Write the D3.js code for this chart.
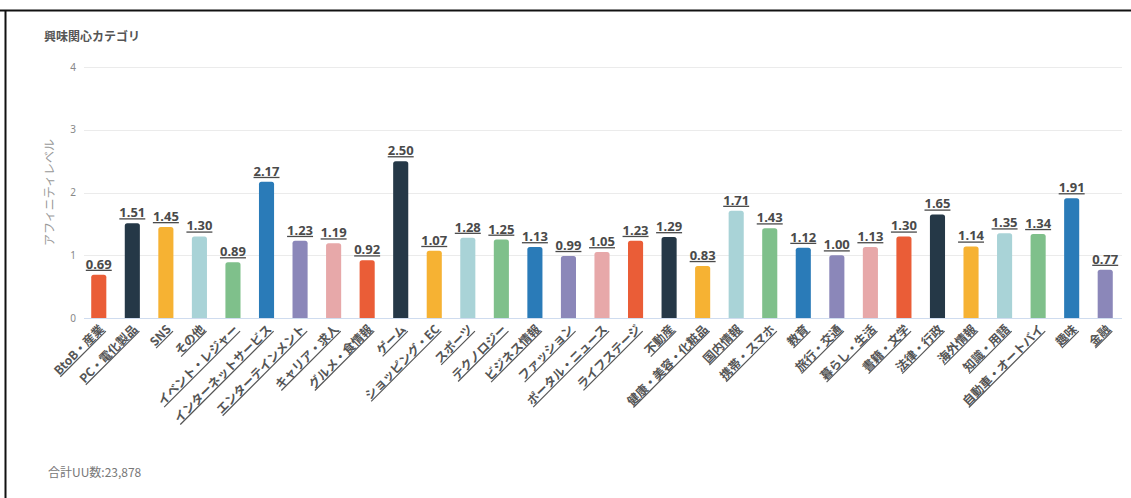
<!DOCTYPE html>
<html>
<head>
<meta charset="utf-8">
<script src="https://cdn.jsdelivr.net/npm/d3@7"></script>
<style>
body { margin:0; background:#fff; font-family:"Noto Sans CJK JP","Noto Sans",sans-serif; }
</style>
</head>
<body>
<script>
var width=1131, height=498;

var categories = ["BtoB・産業","PC・電化製品","SNS","その他","イベント・レジャー","インターネットサービス","エンターテインメント","キャリア・求人","グルメ・食情報","ゲーム","ショッピング・EC","スポーツ","テクノロジー","ビジネス情報","ファッション","ポータル・ニュース","ライフステージ","不動産","健康・美容・化粧品","国内情報","携帯・スマホ","教育","旅行・交通","暮らし・生活","書籍・文学","法律・行政","海外情報","知識・用語","自動車・オートバイ","趣味","金融"];
var values = [0.69,1.51,1.45,1.30,0.89,2.17,1.23,1.19,0.92,2.50,1.07,1.28,1.25,1.13,0.99,1.05,1.23,1.29,0.83,1.71,1.43,1.12,1.00,1.13,1.30,1.65,1.14,1.35,1.34,1.91,0.77];
var yTicks = [0,1,2,3,4];
var palette = ["#ea5d37","#253847","#f6b233","#a9d3d7","#7fc08b","#2a7bb8","#8b87b9","#e7a8a9"];

var data = categories.map(function(c, i) { return {name:c, value:values[i]}; });

var svg = d3.select("body").append("svg")
    .attr("width", width)
    .attr("height", height);

// frame lines (top and left)
svg.append("line").attr("x1",0).attr("x2",width).attr("y1",10.5).attr("y2",10.5)
    .attr("stroke","#111").attr("stroke-width",2);
svg.append("line").attr("x1",5.5).attr("x2",5.5).attr("y1",10).attr("y2",height)
    .attr("stroke","#111").attr("stroke-width",2);

var xScale = d3.scaleBand().domain(categories).range([82, 1122]).paddingInner(0.55).paddingOuter(0.275),
    yScale = d3.scaleLinear().domain([0, 4]).range([318, 67]);

// title
svg.append("text").attr("x",44).attr("y",41)
    .attr("font-size",12).attr("font-weight","bold").attr("fill","#555")
    .text("興味関心カテゴリ");

// grid
svg.append("g").selectAll("line").data(yTicks.slice(1)).enter().append("line")
    .attr("x1",84).attr("x2",1122)
    .attr("y1",function(d){ return Math.round(yScale(d))+0.5; })
    .attr("y2",function(d){ return Math.round(yScale(d))+0.5; })
    .attr("stroke","#ebebeb");

var yAxis = svg.append("g")
    .attr("transform","translate(84,0)")
    .call(d3.axisLeft(yScale).tickValues(yTicks).tickSize(0).tickPadding(8).tickFormat(d3.format("d")));
yAxis.select(".domain").remove();
yAxis.selectAll("text").attr("font-size",10).attr("fill","#888").attr("font-family","Noto Sans");

svg.append("text")
    .attr("transform","translate(54," + yScale(2) + ") rotate(-90)")
    .attr("text-anchor","middle")
    .attr("font-size",12).attr("fill","#999")
    .text("アフィニティレベル");

// bars
svg.selectAll(".bar").data(data).enter().append("path")
    .attr("class","bar")
    .attr("fill",function(d,i){ return palette[i % palette.length]; })
    .attr("d",function(d){
        var x = xScale(d.name), w = xScale.bandwidth(), y = yScale(d.value), y0 = yScale(0), r = 2.5;
        return "M"+x+","+y0+"V"+(y+r)+"Q"+x+","+y+" "+(x+r)+","+y+"H"+(x+w-r)+"Q"+(x+w)+","+y+" "+(x+w)+","+(y+r)+"V"+y0+"Z";
    });

// baseline
svg.append("line").attr("x1",84).attr("x2",1122)
    .attr("y1",yScale(0)+0.5).attr("y2",yScale(0)+0.5)
    .attr("stroke","#cfdcef");

// value labels
svg.selectAll(".val").data(data).enter().append("text")
    .attr("class","val")
    .attr("x",function(d){ return xScale(d.name) + xScale.bandwidth()/2; })
    .attr("y",function(d){ return yScale(d.value) - 6; })
    .attr("text-anchor","middle")
    .attr("font-size",13).attr("font-weight","bold").attr("fill","#4a4a4a")
    .attr("font-family","Noto Sans")
    .attr("text-decoration","underline")
    .text(function(d){ return d3.format(".2f")(d.value); });

// x labels
svg.selectAll(".xl").data(data).enter().append("text")
    .attr("class","xl")
    .attr("transform",function(d){
        var cx = xScale(d.name) + xScale.bandwidth()/2 + 6;
        return "translate(" + cx + ",330) rotate(-45)";
    })
    .attr("text-anchor","end")
    .attr("font-size",12).attr("font-weight","bold").attr("fill","#555")
    .attr("text-decoration","underline")
    .text(function(d){ return d.name; });

// footer
svg.append("text").attr("x",48).attr("y",477)
    .attr("font-size",12).attr("fill","#777")
    .text("合計UU数:23,878");
</script>
</body>
</html>
